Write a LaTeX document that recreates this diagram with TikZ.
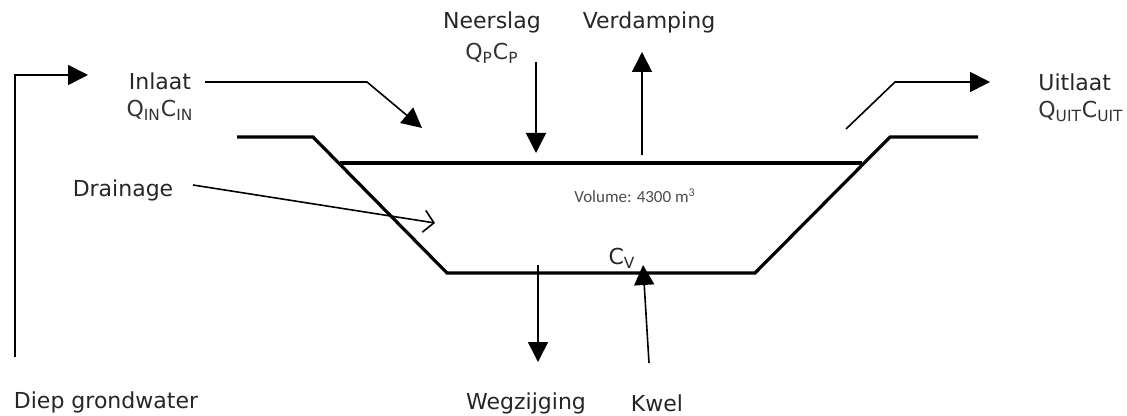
\documentclass[tikz,border=0pt]{standalone}
\usepackage{fontspec}
\setmainfont{DejaVu Sans}
\newfontfamily\volfont{Carlito}
\usetikzlibrary{positioning, arrows.meta}

\begin{document}
\begin{tikzpicture}[
    x=0.5pt, y=-0.5pt,
    font=\fontsize{11}{13}\selectfont,
    lbl/.style={inner sep=1pt, text=black!85},
    flux/.style={inner sep=1pt, text=black!80},
    bank/.style={line width=1.6pt},
    ar/.style={-{Triangle[length=10pt, width=10pt]}, line width=0.8pt},
    br/.style={-{Straight Barb[length=5pt, width=11pt]}, line width=0.8pt}
]
\useasboundingbox (0,0) rectangle (1127,416);

% labels
\node[lbl] (inl) at (160,81) {Inlaat};
\node[flux, below=3pt of inl] (qin) {Q\textsubscript{IN}C\textsubscript{IN}};
\node[lbl] (nsl) at (492,22) {Neerslag};
\node[flux, below=3pt of nsl] (qp) {Q\textsubscript{P}C\textsubscript{P}};
\node[lbl] (vdp) at (649,22) {Verdamping};
\node[lbl, anchor=west] (uit) at (1036,82) {Uitlaat};
\node[flux, below=3pt of uit.south west, anchor=north west] (quit) {Q\textsubscript{UIT}C\textsubscript{UIT}};
\node[lbl] (drn) at (123,190) {Drainage};
\node[inner sep=1pt, text=black!70, font=\volfont\fontsize{8.5}{10}\selectfont] (vol) at (635,196) {Volume: 4300 m\textsuperscript{3}};
\node[lbl] (cv) at (622,258) {C\textsubscript{V}};
\node[lbl] (weg) at (526,403) {Wegzijging};
\node[lbl] (kwel) at (657,403) {Kwel};
\node[lbl] (diep) at (106,402) {Diep grondwater};

% basin
\draw[bank] (237,137) -- (313,137) -- (447,273) -- (755,273) -- (890,137) -- (978,137);
\draw[bank] (340,163) -- (862,163);

% ends of the flows
\coordinate (gw0) at (15,357);
\coordinate (gw1) at (15,75);
\coordinate (gw2) at (88,75);
\coordinate (in0) at (205,82);
\coordinate (in1) at (367,82);
\coordinate (in2) at (422,128);
\coordinate (ns0) at (536,62);
\coordinate (ns1) at (536,153);
\coordinate (vd0) at (642,155);
\coordinate (vd1) at (642,52);
\coordinate (ui0) at (846,129);
\coordinate (ui1) at (895,82);
\coordinate (ui2) at (990,82);
\coordinate (dr0) at (193,185);
\coordinate (dr1) at (435,223);
\coordinate (wz0) at (538,265);
\coordinate (wz1) at (538,362);
\coordinate (kw0) at (649,363);
\coordinate (kw1) at (643,265);

\draw[ar] (gw0) -- (gw1) -- (gw2);
\draw[ar] (in0) -- (in1) -- (in2);
\draw[ar] (ns0) -- (ns1);
\draw[ar] (vd0) -- (vd1);
\draw[ar] (ui0) -- (ui1) -- (ui2);
\draw[br] (dr0) -- (dr1);
\draw[ar] (wz0) -- (wz1);
\draw[ar] (kw0) -- (kw1);
\end{tikzpicture}
\end{document}
